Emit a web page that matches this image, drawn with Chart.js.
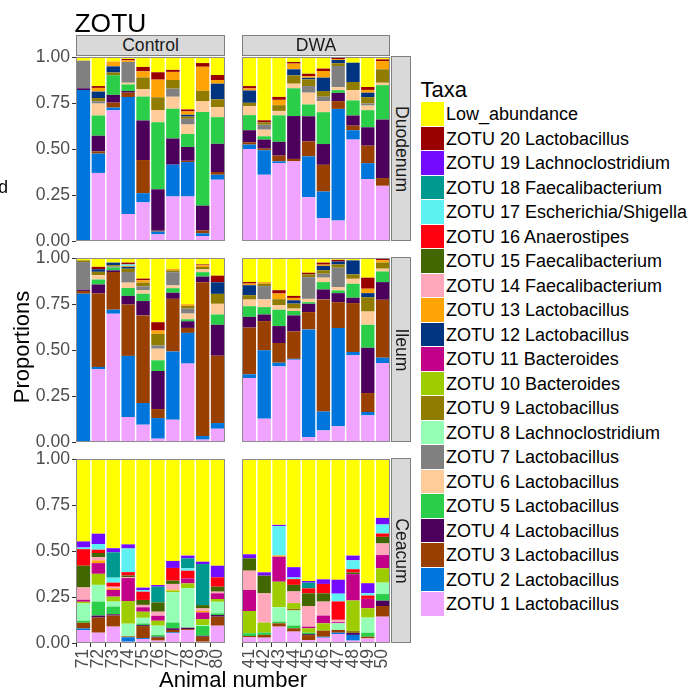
<!DOCTYPE html>
<html>
<head>
<meta charset="utf-8">
<script src="https://cdn.jsdelivr.net/npm/chart.js@4.4.1/dist/chart.umd.min.js"></script>
<style>
  html, body { margin: 0; padding: 0; background: #ffffff; }
  #page { position: relative; width: 689px; height: 690px; overflow: hidden;
          font-family: "Liberation Sans", Arial, sans-serif; }
  .t { position: absolute; white-space: nowrap; line-height: 1; }
  .box { position: absolute; box-sizing: border-box; }
  canvas { position: absolute; }
</style>
</head>
<body>
<div id="page"></div>
<script>
// Taxa in stacking order (bottom of each bar first)
const taxa = [
  'ZOTU 1 Lactobacillus', 'ZOTU 2 Lactobacillus', 'ZOTU 3 Lactobacillus', 'ZOTU 4 Lactobacillus',
  'ZOTU 5 Lactobacillus', 'ZOTU 6 Lactobacillus', 'ZOTU 7 Lactobacillus', 'ZOTU 8 Lachnoclostridium',
  'ZOTU 9 Lactobacillus', 'ZOTU 10 Bacteroides', 'ZOTU 11 Bacteroides', 'ZOTU 12 Lactobacillus',
  'ZOTU 13 Lactobacillus', 'ZOTU 14 Faecalibacterium', 'ZOTU 15 Faecalibacterium', 'ZOTU 16 Anaerostipes',
  'ZOTU 17 Escherichia/Shigella', 'ZOTU 18 Faecalibacterium', 'ZOTU 19 Lachnoclostridium',
  'ZOTU 20 Lactobacillus', 'Low_abundance'
];
const taxaColours = [
  '#F0A3FF', '#0075DC', '#993F00', '#4C005C', '#2BCE48', '#FFCC99', '#808080', '#94FFB5',
  '#8F7C00', '#9DCC00', '#C20088', '#003380', '#FFA405', '#FFA8BB', '#426600', '#FF0010',
  '#5EF1F2', '#00998F', '#740AFF', '#990000', '#FFFF00'
];

const groups = ['Control', 'DWA'];
const sites = ['Duodenum', 'Ileum', 'Ceacum'];
const controlAnimals = ['71', '72', '73', '74', '75', '76', '77', '78', '79', '80'];
const dwaAnimals = ['41', '42', '43', '44', '45', '46', '47', '48', '49', '50'];
const yTicks = [0, 0.25, 0.5, 0.75, 1];

// One row per animal; columns follow `taxa` (ZOTU 1 ... ZOTU 20, Low_abundance)
const controlDuodenum = [
  [0, .82, 0, .01, 0, 0, .15, 0, 0, 0, 0, 0, 0, 0, 0, 0, 0, 0, 0, 0, .02],
  [.37, .105, .012, .085, .11, .065, .012, 0, .018, 0, 0, .035, .02, 0, 0, 0, 0, 0, 0, .01, .158],
  [.71, .015, .027, .042, .107, 0, 0, 0, .015, 0, 0, .033, .027, 0, 0, 0, 0, 0, 0, 0, .024],
  [.147, .635, .024, .009, .036, .009, .113, 0, 0, 0, 0, 0, .009, 0, 0, 0, 0, 0, 0, .007, .011],
  [.21, .05, .18, .215, .13, .04, 0, 0, .064, 0, 0, 0, .033, 0, 0, 0, 0, 0, 0, .024, .054],
  [.036, .015, .005, .225, .364, .067, 0, 0, .069, 0, 0, 0, .096, 0, 0, 0, 0, 0, 0, .04, .083],
  [.242, .173, 0, .142, .162, .065, .044, 0, .047, 0, 0, 0, .044, 0, 0, 0, 0, 0, 0, .011, .07],
  [.242, .187, .007, .075, .071, .051, .031, 0, .012, 0, 0, .01, .018, 0, 0, 0, 0, 0, 0, .011, .285],
  [.027, .015, .015, .135, .509, .06, 0, 0, .055, 0, 0, 0, .131, 0, 0, 0, 0, 0, 0, .02, .033],
  [.333, .027, .015, .153, .145, .055, 0, 0, .042, 0, 0, .085, .02, 0, 0, 0, 0, 0, 0, .027, .098]
];
const dwaDuodenum = [
  [.5, .024, .013, .065, .082, .049, 0, 0, .018, 0, 0, .067, .011, 0, 0, 0, 0, 0, 0, .013, .158],
  [.36, .133, .009, .049, .018, .036, .027, 0, .013, 0, 0, 0, 0, 0, 0, 0, 0, 0, 0, .011, .344],
  [.424, .009, .031, .075, .144, .024, 0, 0, .031, 0, 0, 0, .029, 0, 0, 0, 0, 0, 0, .016, .217],
  [.433, 0, .013, .233, .151, .025, 0, 0, .045, 0, 0, .033, .031, 0, 0, 0, 0, 0, 0, .009, .027],
  [.238, .222, .082, .136, .064, .064, .036, 0, .036, 0, 0, .009, .009, 0, 0, 0, 0, 0, 0, .013, .091],
  [.124, .145, .145, .113, .173, .06, .024, 0, .031, 0, 0, .073, .036, 0, 0, 0, 0, 0, 0, .013, .063],
  [.111, .607, .042, .045, .015, .016, .115, 0, .015, 0, 0, .018, .005, 0, 0, 0, 0, 0, 0, .008, .003],
  [.551, .051, .025, .055, .082, .056, 0, 0, .044, 0, 0, .105, 0, 0, 0, 0, 0, 0, 0, 0, .031],
  [.336, .087, .095, .1, .093, .025, .011, 0, .035, 0, 0, .024, .015, 0, 0, 0, 0, 0, 0, .016, .163],
  [.3, 0, .042, .318, .187, .013, 0, 0, .073, 0, 0, 0, .045, 0, 0, 0, 0, 0, 0, .009, .013]
];
const controlIleum = [
  [0, .806, .015, .007, 0, 0, .15, 0, .009, 0, 0, 0, 0, 0, 0, 0, 0, 0, 0, 0, .013],
  [.395, .013, .399, .049, .027, .024, 0, 0, .018, 0, 0, .014, 0, 0, 0, 0, 0, 0, 0, .013, .048],
  [.697, .022, .205, .009, .015, 0, .006, 0, .007, 0, 0, .014, 0, 0, 0, 0, 0, 0, 0, 0, .025],
  [.136, .332, .279, .047, .043, .029, .058, 0, .018, 0, 0, .01, .005, 0, 0, 0, .008, 0, 0, .01, .025],
  [.094, .118, .476, .078, .04, .018, .022, 0, .02, 0, 0, 0, .013, 0, 0, 0, 0, 0, 0, .009, .112],
  [.018, .112, .049, .207, .058, .063, .018, 0, .063, 0, 0, 0, .018, 0, 0, 0, 0, 0, 0, .045, .349],
  [.121, .371, .286, .033, .025, .015, .072, 0, .009, 0, 0, 0, .009, 0, 0, 0, 0, 0, 0, 0, .059],
  [.426, .167, .027, .036, .011, .031, .027, 0, .015, 0, 0, 0, .009, 0, 0, 0, 0, 0, 0, 0, .251],
  [.013, .02, .835, .031, .024, .015, 0, 0, .013, 0, 0, 0, .009, 0, 0, 0, 0, 0, 0, .005, .035],
  [.072, .031, .366, .168, .056, .058, 0, 0, .054, 0, 0, .063, 0, 0, 0, 0, 0, 0, 0, .036, .096]
];
const dwaIleum = [
  [.348, .02, .254, .058, .058, .036, 0, 0, .024, 0, 0, .054, .009, 0, 0, 0, 0, 0, 0, .009, .13],
  [.127, .371, .159, .036, .04, .042, .072, 0, .013, 0, 0, 0, .009, 0, 0, 0, 0, 0, 0, 0, .131],
  [.411, .02, .107, .092, .089, .024, 0, 0, .033, 0, 0, 0, .031, 0, 0, 0, 0, 0, 0, .018, .175],
  [.447, .005, .149, .087, .024, .013, 0, 0, .027, 0, 0, .018, .013, 0, 0, 0, 0, 0, 0, .011, .206],
  [.027, .585, .094, .045, .009, .018, .118, 0, .015, 0, 0, 0, 0, 0, 0, 0, 0, 0, 0, .009, .08],
  [.063, .103, .609, .054, .04, .024, .022, 0, .018, 0, 0, .024, .007, 0, 0, 0, 0, 0, 0, .011, .025],
  [.085, .534, .141, .049, .015, .018, .105, 0, .018, 0, 0, .016, 0, 0, 0, 0, 0, 0, 0, .009, .01],
  [.471, .018, .266, .029, .076, .027, 0, 0, .024, 0, 0, .076, 0, 0, 0, 0, 0, 0, 0, 0, .013],
  [.145, .018, .103, .246, .125, .072, 0, 0, .078, 0, 0, .022, .024, 0, 0, 0, 0, 0, 0, .06, .107],
  [.429, .029, .315, .096, .058, .015, 0, 0, .033, 0, 0, 0, .013, 0, 0, 0, 0, 0, 0, .012, 0]
];
const controlCeacum = [
  [.07, .009, .031, 0, .011, 0, 0, .094, 0, .009, .011, 0, 0, .067, .118, .09, .009, 0, .033, 0, .448],
  [.056, 0, .082, .011, .076, 0, 0, .091, 0, .06, .058, 0, .015, .018, .022, .018, .031, 0, .056, 0, .406],
  [.089, 0, .06, .007, .042, 0, 0, .027, 0, .027, .036, 0, .009, .009, 0, .022, .027, .138, .022, 0, .485],
  [.007, .024, .005, 0, 0, 0, 0, .069, 0, .123, .125, 0, 0, .005, .009, .018, .129, 0, .022, 0, .464],
  [.022, .005, .065, .005, .009, 0, 0, .031, 0, .033, .024, 0, 0, .013, .027, .045, .009, 0, .013, 0, .699],
  [.013, 0, .016, .005, .009, 0, 0, .051, 0, .027, .027, 0, 0, .022, .051, 0, 0, .085, .009, 0, .685],
  [.053, .005, .013, .009, .031, 0, 0, .165, 0, .009, 0, 0, .005, .031, .018, .069, 0, 0, .038, 0, .554],
  [.071, 0, .005, .007, 0, 0, 0, .216, 0, .025, .027, 0, 0, 0, 0, .042, .013, .054, .015, 0, .525],
  [.007, 0, .027, .005, .053, 0, 0, .005, 0, .033, .036, 0, .009, .013, .018, 0, 0, .223, .013, 0, .558],
  [.094, 0, .049, .009, .009, 0, 0, .063, 0, .015, .031, 0, 0, .009, .027, .051, 0, 0, .063, 0, .58]
];
const dwaCeacum = [
  [.031, 0, .007, 0, .015, 0, 0, 0, 0, .121, .114, 0, 0, .105, .067, 0, 0, 0, .022, 0, .518],
  [.029, 0, .015, 0, .013, 0, 0, 0, 0, .054, 0, 0, 0, .159, .096, 0, 0, 0, .018, 0, .616],
  [.089, 0, .018, 0, .009, 0, 0, .078, 0, .139, .136, 0, .007, 0, 0, 0, .159, 0, .007, 0, .358],
  [.062, 0, .018, 0, .015, 0, 0, .082, .009, .031, 0, 0, 0, .063, .036, .031, .009, 0, .056, 0, .588],
  [.016, 0, .027, .005, .008, 0, 0, 0, 0, .024, .009, 0, 0, .112, .069, .027, 0, .031, .009, 0, .663],
  [.029, .005, .033, 0, 0, 0, 0, 0, 0, .04, .042, 0, 0, .076, .045, .051, 0, 0, .025, 0, .654],
  [.049, .007, .015, 0, 0, 0, 0, .036, 0, 0, .006, 0, 0, .013, 0, .1, .042, 0, .076, 0, .656],
  [.013, .031, 0, .011, 0, 0, 0, 0, .011, .165, .143, 0, 0, 0, .009, .018, .049, 0, .025, 0, .525],
  [.025, 0, .009, 0, .022, 0, 0, .082, 0, .051, .051, 0, 0, 0, 0, .018, .013, 0, .054, 0, .675],
  [.143, 0, .058, .029, .036, 0, 0, .062, 0, .078, .072, 0, 0, .063, .036, .018, .049, 0, .036, 0, .32]
];

// ---- page layout (pixels) ----
const page = document.getElementById('page');
const colLeft = [76, 242], colRight = [225, 390];
const rowTop = [57, 258, 459], panelH = 184;
const yAxisW = 76, xAxisH = 34;
const FONT = '"Liberation Sans", Arial, sans-serif';
const TICK_SIZE = 17.6;

Chart.defaults.font.family = FONT;

function addText(str, x, y, size, opts = {}) {
  const el = document.createElement('div');
  el.className = 't';
  el.textContent = str;
  el.style.left = x + 'px';
  el.style.top = y + 'px';
  el.style.fontSize = size + 'px';
  el.style.color = opts.color || '#000';
  const ax = opts.align === 'left' ? '0' : opts.align === 'right' ? '-100%' : '-50%';
  el.style.transform = `translate(${ax}, -50%)`;
  page.appendChild(el);
  return el;
}
function addCentredRotated(str, cx, cy, size, deg, color) {
  const el = document.createElement('div');
  el.className = 't';
  el.textContent = str;
  el.style.left = cx + 'px';
  el.style.top = cy + 'px';
  el.style.fontSize = size + 'px';
  el.style.color = color || '#000';
  el.style.transform = `translate(-50%, -50%) rotate(${deg}deg)`;
  page.appendChild(el);
}
function addBox(x, y, w, h, fill, border) {
  const el = document.createElement('div');
  el.className = 'box';
  el.style.left = x + 'px'; el.style.top = y + 'px';
  el.style.width = w + 'px'; el.style.height = h + 'px';
  el.style.background = fill;
  if (border) el.style.border = '1px solid ' + border;
  page.appendChild(el);
}

// outline drawn around every panel's plotting area
const panelFrame = {
  id: 'panelFrame',
  afterDatasetsDraw(chart) {
    const { ctx, chartArea: a } = chart;
    ctx.save();
    ctx.strokeStyle = '#8c8c8c';
    ctx.lineWidth = 1;
    ctx.strokeRect(a.left + 0.5, a.top + 0.5, a.right - a.left - 1, a.bottom - a.top - 1);
    ctx.restore();
  }
};

function makePanel(row, col, rows, animals) {
  const showY = col === 0, showX = row === 2;
  const padTop = 12, padBottom = showX ? 0 : 12;
  const left = showY ? colLeft[col] - yAxisW : colLeft[col];
  const width = colRight[col] - left;
  const height = padTop + panelH + (showX ? xAxisH : padBottom);
  const canvas = document.createElement('canvas');
  canvas.width = width; canvas.height = height;
  canvas.style.left = left + 'px';
  canvas.style.top = (rowTop[row] - padTop) + 'px';
  canvas.style.width = width + 'px'; canvas.style.height = height + 'px';
  page.appendChild(canvas);

  const datasets = taxa.map((name, k) => ({
    label: name,
    data: rows.map(r => r[k]),
    backgroundColor: taxaColours[k],
    borderWidth: 0,
    categoryPercentage: 0.9,
    barPercentage: 1.0
  }));

  new Chart(canvas, {
    type: 'bar',
    data: { labels: animals, datasets },
    options: {
      responsive: false,
      animation: false,
      devicePixelRatio: 1,
      events: [],
      layout: { padding: { top: padTop, bottom: padBottom, left: 0, right: 0 } },
      plugins: { legend: { display: false }, tooltip: { enabled: false } },
      scales: {
        x: {
          stacked: true,
          display: showX,
          offset: true,
          border: { display: false },
          grid: { display: true, drawOnChartArea: false, drawTicks: true, tickLength: 4, tickColor: '#333333' },
          ticks: { autoSkip: false, minRotation: 90, maxRotation: 90, padding: 2,
                   color: '#4d4d4d', font: { size: TICK_SIZE } },
          afterFit(s) {
            if (!showX) { s.height = 0; return; }
            s.height = xAxisH; s.paddingLeft = 0; s.paddingRight = 0;
          }
        },
        y: {
          stacked: true,
          display: showY,
          min: 0, max: 1,
          border: { display: false },
          grid: { display: true, drawOnChartArea: false, drawTicks: true, tickLength: 4, tickColor: '#333333' },
          afterBuildTicks(s) { s.ticks = yTicks.map(v => ({ value: v })); },
          ticks: { padding: 2, color: '#4d4d4d', font: { size: TICK_SIZE },
                   callback: v => Number(v).toFixed(2) },
          afterFit(s) {
            if (!showY) { s.width = 0; return; }
            s.width = yAxisW; s.paddingTop = 0; s.paddingBottom = 0;
          }
        }
      }
    },
    plugins: [panelFrame]
  });
}

const panelRows = [
  [controlDuodenum, dwaDuodenum],
  [controlIleum, dwaIleum],
  [controlCeacum, dwaCeacum]
];
const animalsByGroup = [controlAnimals, dwaAnimals];

for (let r = 0; r < 3; r++) {
  for (let c = 0; c < 2; c++) {
    makePanel(r, c, panelRows[r][c], animalsByGroup[c]);
  }
}

// facet strips
groups.forEach((g, c) => {
  addBox(colLeft[c], 35, colRight[c] - colLeft[c], 21, '#d9d9d9', '#7f7f7f');
  addText(g, (colLeft[c] + colRight[c]) / 2, 45.5, 17.6, { color: '#1a1a1a' });
});
sites.forEach((s, r) => {
  addBox(391, rowTop[r] - 1, 20, panelH + 1, '#d9d9d9', '#7f7f7f');
  addCentredRotated(s, 401, rowTop[r] + panelH / 2, 17.6, 90, '#1a1a1a');
});

// titles
addText('ZOTU', 74.5, 22.5, 26.4, { align: 'left' });
addText('d', 8, 187.5, 17.6, { align: 'right' });
addCentredRotated('Proportions', 22, 347, 22, -90, '#000');
addText('Animal number', 233, 679.5, 22);

// legend
addText('Taxa', 420.5, 90, 22, { align: 'left' });
const keyTop = 102, keyStep = 24.5;
for (let i = 0; i < taxa.length; i++) {
  const k = taxa.length - 1 - i;
  const y = keyTop + i * keyStep;
  addBox(421, y, 23, keyStep - 1, taxaColours[k]);
  addText(taxa[k], 446, y + keyStep / 2, 18, { align: 'left' });
}
</script>
</body>
</html>
